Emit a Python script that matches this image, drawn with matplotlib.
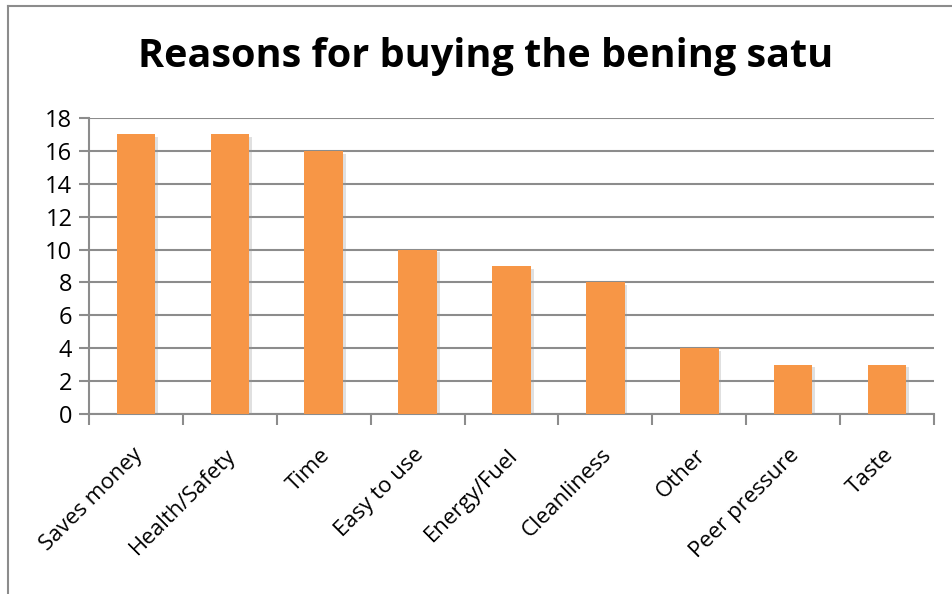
import matplotlib.pyplot as plt
import matplotlib.patheffects as pe
from matplotlib.lines import Line2D

reasons = ['Saves money', 'Health/Safety', 'Time', 'Easy to use', 'Energy/Fuel',
           'Cleanliness', 'Other', 'Peer pressure', 'Taste']
counts = [17, 17, 16, 10, 9, 8, 4, 3, 3]
y_ticks = list(range(0, 19, 2))

plt.rcParams['font.family'] = ['Open Sans', 'DejaVu Sans']

W, H = 953, 594
fig = plt.figure(figsize=(W / 100, H / 100), dpi=100)
ax = fig.add_axes([89 / W, 1 - 414 / H, (934 - 89) / W, (414 - 118) / H])

grey = '#8c8c8c'
x = range(len(reasons))
bars = ax.bar(x, counts, width=0.41, color='#f79646', zorder=3)
for b in bars:
    b.set_path_effects([pe.SimplePatchShadow(offset=(2, -2), shadow_rgbFace='#999999', alpha=0.3),
                        pe.Normal()])

ax.set_xlim(-0.5, len(reasons) - 0.5)
ax.set_ylim(0, 18)
ax.set_yticks(y_ticks)
ax.set_yticklabels([str(v) for v in y_ticks], fontsize=17)
ax.yaxis.grid(True, color=grey, linewidth=1.5, zorder=0)
ax.tick_params(axis='y', length=7, width=1.5, color=grey, pad=5)

# category ticks sit between bars
ax.set_xticks([i - 0.5 for i in range(len(reasons) + 1)])
ax.set_xticklabels([])
ax.tick_params(axis='x', length=8, width=1.5, color=grey)
for i, name in enumerate(reasons):
    ax.annotate(name, xy=(i, 0), xycoords=('data', 'axes fraction'),
                xytext=(-3, -22), textcoords='offset points',
                rotation=45, ha='right', va='top', rotation_mode='anchor',
                fontsize=16)

for side in ['top', 'right']:
    ax.spines[side].set_visible(False)
for side in ['left', 'bottom']:
    ax.spines[side].set_color(grey)
    ax.spines[side].set_linewidth(1.5)

fig.suptitle('Reasons for buying the bening satu', x=486 / W, y=1 - 57 / H,
             va='center', fontsize=28.5, fontweight='bold')

# chart area frame
fig.add_artist(Line2D([8 / W, 8 / W], [0, 1 - 6 / H], color=grey, linewidth=1.5))
fig.add_artist(Line2D([8 / W, 1], [1 - 6 / H, 1 - 6 / H], color=grey, linewidth=1.5))

fig.savefig('out.png', dpi=100)
